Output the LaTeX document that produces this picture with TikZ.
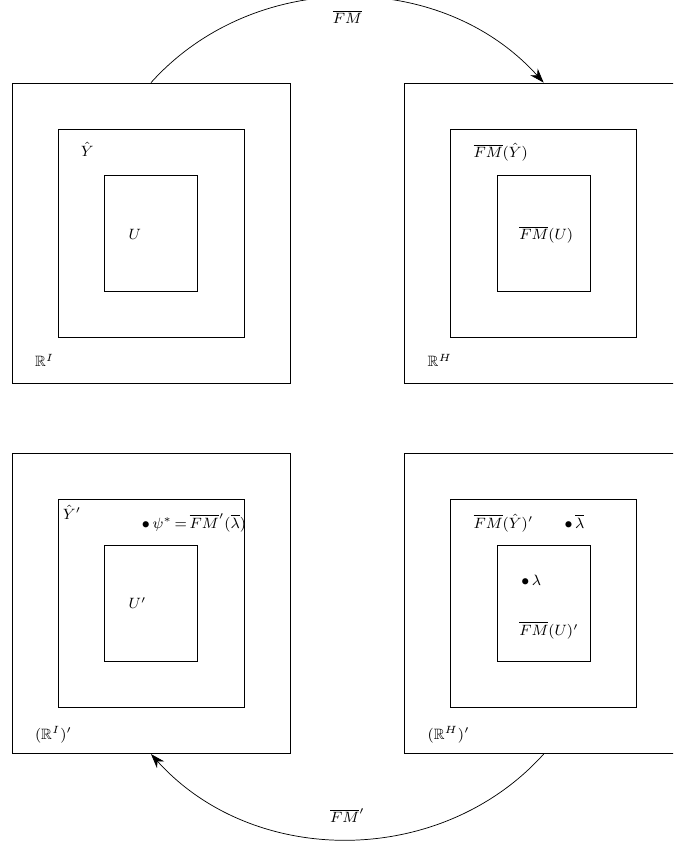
\documentclass[tikz,border=0pt]{standalone}
\usepackage{fix-cm}
\usepackage{amsmath}
\usepackage{amssymb}
\usetikzlibrary{arrows.meta,positioning}
\tikzset{
  outerbox/.style={rectangle, draw, thin, inner sep=0pt,
    minimum width=5.42cm, minimum height=5.85cm},
  midbox/.style={rectangle, draw, thin, inner sep=0pt,
    minimum width=3.63cm, minimum height=4.06cm},
  innerbox/.style={rectangle, draw, thin, inner sep=0pt,
    minimum width=1.81cm, minimum height=2.26cm},
  setlabel/.style={inner sep=0pt, anchor=base west},
  maparrow/.style={-{Stealth[length=8pt, width=5.5pt]}, thin},
  maplabel/.style={inner sep=2pt},
}

\begin{document}
\begin{tikzpicture}[x=0.0195cm, y=0.0195cm, node distance=1.365cm and 2.223cm,
    every node/.style={font=\fontsize{8.3}{10}\selectfont}]
  \useasboundingbox (0,0) rectangle (673,-847);
  \clip (0,0) rectangle (673,-847);

  % the four spaces: primal row on top, dual row below
  \node[outerbox] (RI) at (151,-233) {};
  \node[outerbox, right=of RI] (RH) {};
  \node[outerbox, below=of RI] (RIp) {};
  \node[outerbox, below=of RH] (RHp) {};

  % nested sets inside each space
  \foreach \sp in {RI,RH,RIp,RHp} {
    \node[midbox] (\sp-Y) at (\sp) {};
    \node[innerbox] (\sp-U) at (\sp) {};
  }

  % top left
  \node[setlabel] (lRI) at ([shift={(23,17)}]RI.south west) {$\mathbb{R}^I$};
  \node[setlabel] (lYI) at ([shift={(23,-28)}]RI-Y.north west) {$\hat{Y}$};
  \node[setlabel] (lUI) at ([shift={(24,-65)}]RI-U.north west) {$U$};

  % top right
  \node[setlabel] (lRH) at ([shift={(23,17)}]RH.south west) {$\mathbb{R}^H$};
  \node[setlabel] (lYH) at ([shift={(23,-29)}]RH-Y.north west) {$\overline{FM}(\hat{Y})$};
  \node[setlabel] (lUH) at ([shift={(22,-65)}]RH-U.north west) {$\overline{FM}(U)$};

  % bottom left
  \node[setlabel] (lRIp) at ([shift={(23,15)}]RIp.south west) {$(\mathbb{R}^I)'$};
  \node[setlabel] (lYIp) at ([shift={(5,-20)}]RIp-Y.north west) {$\hat{Y}'$};
  \node[setlabel] (psi) at ([shift={(84,-29)}]RIp-Y.north west)
    {$\bullet\,\psi^*\,{=}\,\overline{FM}'(\overline{\lambda})$};
  \node[setlabel] (lUIp) at ([shift={(24,-63)}]RIp-U.north west) {$U'$};

  % bottom right
  \node[setlabel] (lRHp) at ([shift={(23,15)}]RHp.south west) {$(\mathbb{R}^H)'$};
  \node[setlabel] (lYHp) at ([shift={(23,-29)}]RHp-Y.north west) {$\overline{FM}(\hat{Y})'$};
  \node[setlabel] (lbar) at ([shift={(114,-29)}]RHp-Y.north west) {$\bullet\,\overline{\lambda}$};
  \node[setlabel] (lam) at ([shift={(24,-40)}]RHp-U.north west) {$\bullet\,\lambda$};
  \node[setlabel] (lUHp) at ([shift={(22,-90)}]RHp-U.north west) {$\overline{FM}(U)'$};

  % the maps between the spaces
  \draw[maparrow] (RI.north) to[bend left=48]
    node[maplabel, below=5pt] (fm) {$\overline{FM}$} (RH.north);
  \draw[maparrow] (RHp.south) to[bend left=48]
    node[maplabel, above=7pt] (fmp) {$\overline{FM}'$} (RIp.south);

\end{tikzpicture}
\end{document}
